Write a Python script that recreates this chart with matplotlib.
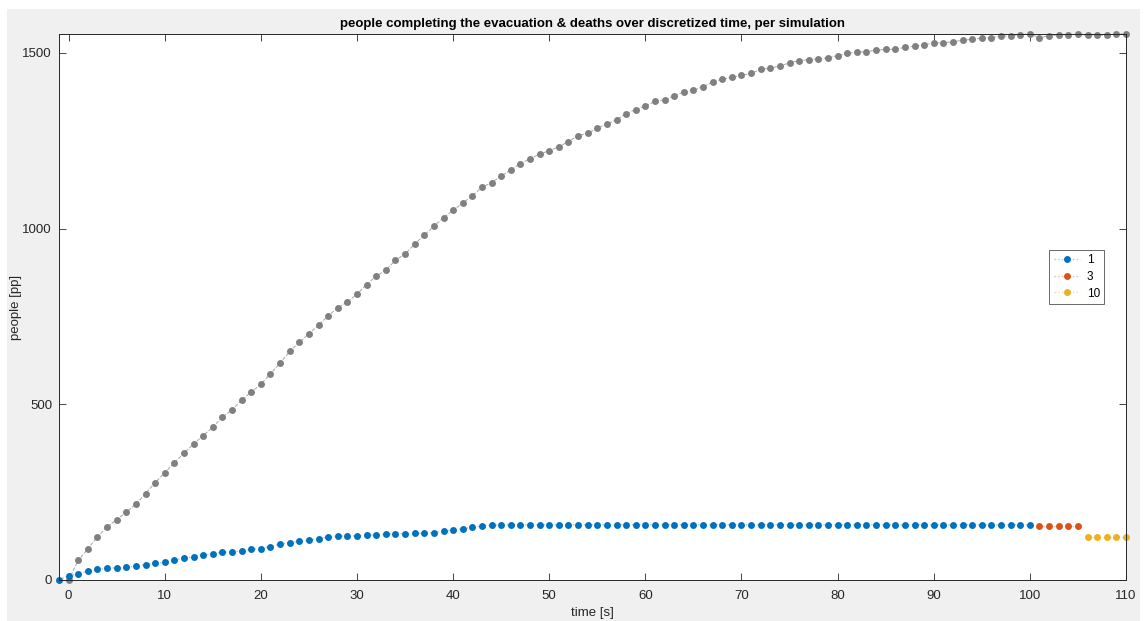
import matplotlib.pyplot as plt
from matplotlib.patches import Rectangle

plt.rcParams['font.family'] = ['Liberation Sans', 'DejaVu Sans']

# total people out + dead (gray), per time step
t_total = list(range(0, 111))
total = [0, 56, 89, 123, 151, 172, 193, 216, 246, 277,
         305, 334, 361, 387, 411, 435, 464, 484, 512, 535,
         557, 587, 617, 651, 676, 701, 725, 752, 775, 791,
         814, 841, 865, 882, 910, 928, 956, 982, 1007, 1031,
         1052, 1073, 1093, 1118, 1131, 1150, 1167, 1185, 1199, 1212,
         1222, 1233, 1248, 1265, 1271, 1286, 1298, 1310, 1327, 1339,
         1349, 1362, 1367, 1378, 1389, 1394, 1404, 1417, 1425, 1431,
         1436, 1442, 1453, 1457, 1463, 1472, 1478, 1481, 1483, 1487,
         1492, 1499, 1502, 1504, 1508, 1510, 1511, 1516, 1519, 1524,
         1528, 1529, 1532, 1536, 1539, 1542, 1544, 1547, 1549, 1552,
         1554, 1543, 1549, 1551, 1552, 1553, 1550, 1550, 1551, 1554,
         1554]

# deaths, simulation 1
t_sim1 = list(range(-1, 101))
deaths_sim1 = [0, 12, 18, 25, 30, 33, 35, 36, 39, 44,
               48, 51, 57, 62, 66, 70, 75, 79, 80, 83,
               88, 89, 95, 102, 106, 110, 113, 118, 122, 125,
               125, 126, 127, 128, 130, 132, 132, 133, 133, 135,
               140, 142, 146, 150, 154, 156, 156] + [157] * 55

# simulation 3 and 10
t_sim3 = [101, 102, 103, 104, 105]
deaths_sim3 = [153, 153, 153, 153, 153]
t_sim10 = [106, 107, 108, 109, 110]
deaths_sim10 = [121, 121, 121, 121, 121]

fig = plt.figure(figsize=(11.47, 6.21), dpi=100, facecolor='white')
fig.patches.append(Rectangle((7 / 1147, 0), 1133 / 1147, 612 / 621,
                             transform=fig.transFigure, facecolor='#f0f0f0',
                             edgecolor='none', zorder=-10))
ax = fig.add_axes([59 / 1147, 41 / 621, 1067 / 1147, 546 / 621])

ax.plot(t_total, total, linestyle='--', linewidth=0.7, color='#a6a6a6',
        marker='o', markersize=5, markerfacecolor='#808080', markeredgewidth=0,
        clip_on=False)
ax.plot(t_sim1, deaths_sim1, linestyle=':', linewidth=1.0, color='#9cc7ea',
        marker='o', markersize=5, markerfacecolor='#0072bd', markeredgewidth=0,
        label='1', clip_on=False)
ax.plot(t_sim3, deaths_sim3, linestyle=':', linewidth=1.0, color='#f0b9a2',
        marker='o', markersize=5, markerfacecolor='#d95319', markeredgewidth=0,
        label='3', clip_on=False)
ax.plot(t_sim10, deaths_sim10, linestyle=':', linewidth=1.0, color='#f7dca0',
        marker='o', markersize=5, markerfacecolor='#edb120', markeredgewidth=0,
        label='10', clip_on=False)

ax.set_xlim(-1, 110)
ax.set_ylim(0, max(total))
ax.set_xticks(range(0, 111, 10))
ax.set_yticks([0, 500, 1000, 1500])
ax.tick_params(direction='in', top=True, right=True, length=5, width=0.6,
               labelsize=9.5, colors='#262626')
ax.tick_params(axis='x', pad=7)
ax.tick_params(axis='y', pad=5)
for s in ax.spines.values():
    s.set_color('#262626')
    s.set_linewidth(0.7)

ax.set_xlabel('time [s]', fontsize=9.5, color='#262626', labelpad=4)
ax.set_ylabel('people [pp]', fontsize=9.5, color='#262626', labelpad=0)
ax.set_title('people completing the evacuation & deaths over discretized time, per simulation',
             fontsize=9.5, fontweight='bold', pad=5)

leg = ax.legend(loc='upper right', bbox_to_anchor=(0.9794, 0.6044), fontsize=8.5,
                frameon=True, fancybox=False, edgecolor='#262626',
                borderaxespad=0, handlelength=2.2, handletextpad=0.6,
                borderpad=0.35, labelspacing=0.4)
leg.get_frame().set_linewidth(0.6)

fig.savefig('out.png', dpi=100, facecolor=fig.get_facecolor())
